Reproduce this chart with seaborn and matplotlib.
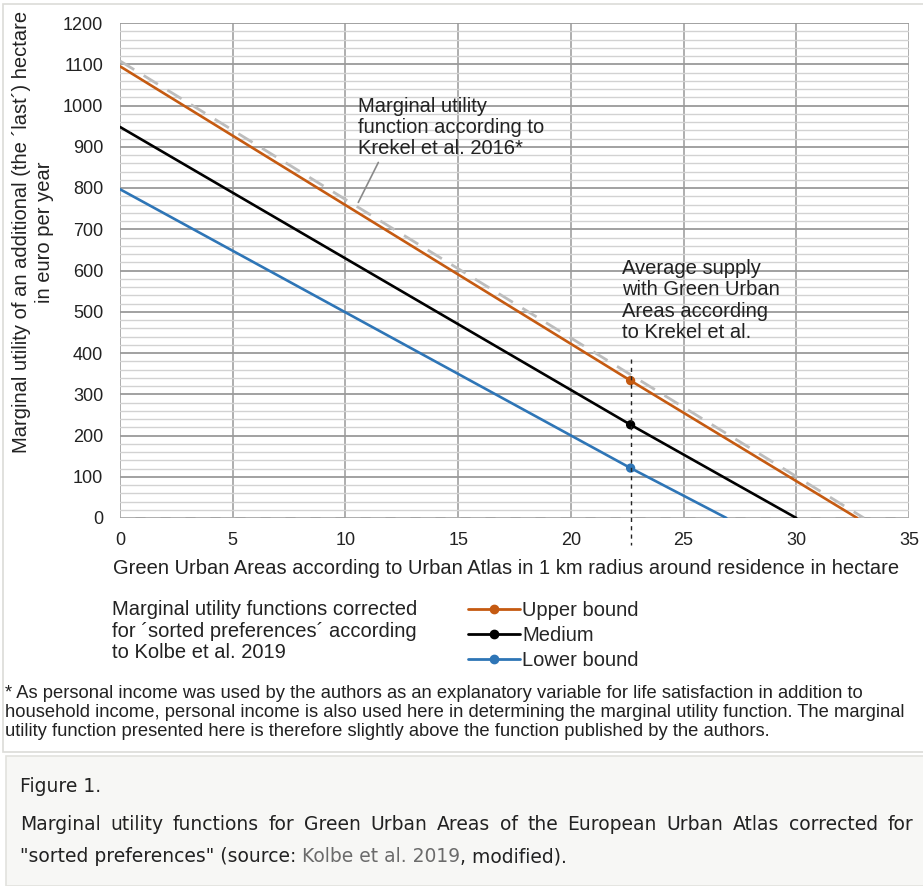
import numpy as np
import pandas as pd
import matplotlib
matplotlib.use('Agg')
import matplotlib.pyplot as plt
from matplotlib.lines import Line2D
from matplotlib.patches import Rectangle
import seaborn as sns

sns.set_style('white')
plt.rcParams['font.family'] = ['Liberation Sans', 'DejaVu Sans']

# values
upper_x = [0, 22.65, 32.7]
upper_y = [1095, 333, 0]
medium_x = [0, 22.65, 30.0]
medium_y = [948, 226, 0]
lower_x = [0, 22.65, 26.9]
lower_y = [797, 121, 0]
krekel_x = [0, 33.0]
krekel_y = [1108, 0]
supply_x = 22.65
supply_y = [333, 226, 121]

series_names = ['Upper bound', 'Medium', 'Lower bound']
series_colors = ['#c55a11', '#000000', '#2e75b6']

x_ticks = [0, 5, 10, 15, 20, 25, 30, 35]
y_ticks = [0, 100, 200, 300, 400, 500, 600, 700, 800, 900, 1000, 1100, 1200]

W, H = 923, 886
fig = plt.figure(figsize=(W / 100, H / 100), dpi=100)

# page panels
fig.patches.append(Rectangle((3 / W, 1 - 752 / H), 1, (752 - 4) / H, transform=fig.transFigure,
                             facecolor='white', edgecolor='#dcdcd8', lw=1.2, zorder=-10))
fig.patches.append(Rectangle((6 / W, 0), 1, (H - 756) / H, transform=fig.transFigure,
                             facecolor='#f7f7f5', edgecolor='#e2e2de', lw=1.2, zorder=-10))

ax = fig.add_axes([120 / W, 1 - 518 / H, (909 - 120) / W, (518 - 23) / H])
ax.set_facecolor('white')

lines_df = pd.concat([
    pd.DataFrame({'x': upper_x, 'y': upper_y, 'series': 'Upper bound'}),
    pd.DataFrame({'x': medium_x, 'y': medium_y, 'series': 'Medium'}),
    pd.DataFrame({'x': lower_x, 'y': lower_y, 'series': 'Lower bound'}),
])
krekel_df = pd.DataFrame({'x': krekel_x, 'y': krekel_y})
points_df = pd.DataFrame({'x': [supply_x] * 3, 'y': supply_y, 'series': series_names})

sns.lineplot(data=krekel_df, x='x', y='y', ax=ax, color='#bdbdbd', lw=2.0,
             dashes=False, linestyle=(0, (6, 4)), zorder=3, legend=False)
sns.lineplot(data=lines_df, x='x', y='y', hue='series', hue_order=series_names,
             palette=series_colors, ax=ax, lw=1.9, zorder=4, legend=False, sort=False,
             estimator=None)
sns.scatterplot(data=points_df, x='x', y='y', hue='series', hue_order=series_names,
                palette=series_colors, ax=ax, s=45, zorder=5, legend=False, edgecolor='none')

# average supply marker line
ax.plot([supply_x, supply_x], [385, -65], color='#222222', lw=1, linestyle=(0, (3, 3)),
        clip_on=False, zorder=6)
# zero line
ax.axhline(0, color='#b5b5b5', lw=1.8, linestyle=(0, (6, 4)), zorder=2)

ax.set_xlim(0, 35)
ax.set_ylim(0, 1200)
ax.set_xticks(x_ticks)
ax.set_yticks(y_ticks)
ax.set_yticks(np.arange(0, 1201, 20), minor=True)
ax.grid(which='minor', axis='y', color='#d2d2d2', lw=1.0, zorder=0)
ax.grid(which='major', axis='y', color='#9a9a9a', lw=1.3, zorder=1)
ax.grid(which='major', axis='x', color='#a8a8a8', lw=1.3, zorder=1)
ax.tick_params(which='both', length=0, labelsize=13, colors='#222222')
ax.tick_params(axis='x', pad=10)
ax.tick_params(axis='y', pad=12)
for s in ax.spines.values():
    s.set_visible(False)
ax.set_xlabel('Green Urban Areas according to Urban Atlas in 1 km radius around residence in hectare',
              fontsize=14.5, color='#222222')
ax.xaxis.set_label_coords((506 - 120) / (909 - 120), -(568 - 518) / (518 - 23))
ax.xaxis.label.set_va('center')
ax.set_ylabel('')

ax.text(10.57, 1020, 'Marginal utility\nfunction according to\nKrekel et al. 2016*',
        fontsize=14.5, va='top', ha='left', color='#222222', linespacing=1.14, zorder=7)
ax.plot([10.57, 11.46], [765, 862], color='#8a8a8a', lw=1.2, zorder=7)
ax.text(22.29, 627, 'Average supply\nwith Green Urban\nAreas according\nto Krekel et al.',
        fontsize=14.5, va='top', ha='left', color='#222222', linespacing=1.14, zorder=7)

fig.text(33 / W, 1 - 232 / H, 'Marginal utility of an additional (the \u00b4last\u00b4) hectare\nin euro per year',
         rotation=90, ha='center', va='center', fontsize=14.5, color='#222222',
         linespacing=1.25, multialignment='center')

# legend block below the chart
fig.text(112 / W, 1 - 600 / H, 'Marginal utility functions corrected\nfor \u00b4sorted preferences\u00b4 according\nto Kolbe et al. 2019',
         ha='left', va='top', fontsize=14.5, color='#222222', linespacing=1.18)
handles = [Line2D([0], [0], color=c, lw=2.0, marker='o', markersize=6) for c in series_colors]
fig.legend(handles, series_names, loc='upper left', bbox_to_anchor=(468 / W, 1 - 601 / H),
           frameon=False, fontsize=14.5, handlelength=2.6, handletextpad=0.1,
           labelspacing=0.3, borderpad=0, borderaxespad=0)

fig.text(5 / W, 1 - 685 / H,
         '* As personal income was used by the authors as an explanatory variable for life satisfaction in addition to\n'
         'household income, personal income is also used here in determining the marginal utility function. The marginal\n'
         'utility function presented here is therefore slightly above the function published by the authors.',
         ha='left', va='top', fontsize=13.2, color='#222222', linespacing=1.16)

# caption
cap_font = dict(family='DejaVu Sans', fontsize=13.5, color='#222222')
fig.text(20 / W, 1 - 786 / H, 'Figure 1.', ha='left', va='center', **cap_font)

fig.canvas.draw()
renderer = fig.canvas.get_renderer()

# justified first caption line
words = 'Marginal utility functions for Green Urban Areas of the European Urban Atlas corrected for'.split()
left, right = 20, 913
objs = [fig.text(0, 1 - 825 / H, w, ha='left', va='center', **cap_font) for w in words]
widths = [o.get_window_extent(renderer).width for o in objs]
gap = (right - left - sum(widths)) / (len(words) - 1)
xpos = left
for o, w in zip(objs, widths):
    o.set_x(xpos / W)
    xpos += w + gap

# second caption line with link-coloured source
pieces = [('"sorted preferences" (source: ', '#222222'), ('Kolbe et al. 2019', '#6b6b6b'), (', modified).', '#222222')]
xpos = 20
for txt, col in pieces:
    t = fig.text(xpos / W, 1 - 857 / H, txt, ha='left', va='center', family='DejaVu Sans',
                 fontsize=13.5, color=col)
    xpos += t.get_window_extent(renderer).width

fig.savefig('out.png', dpi=100)
